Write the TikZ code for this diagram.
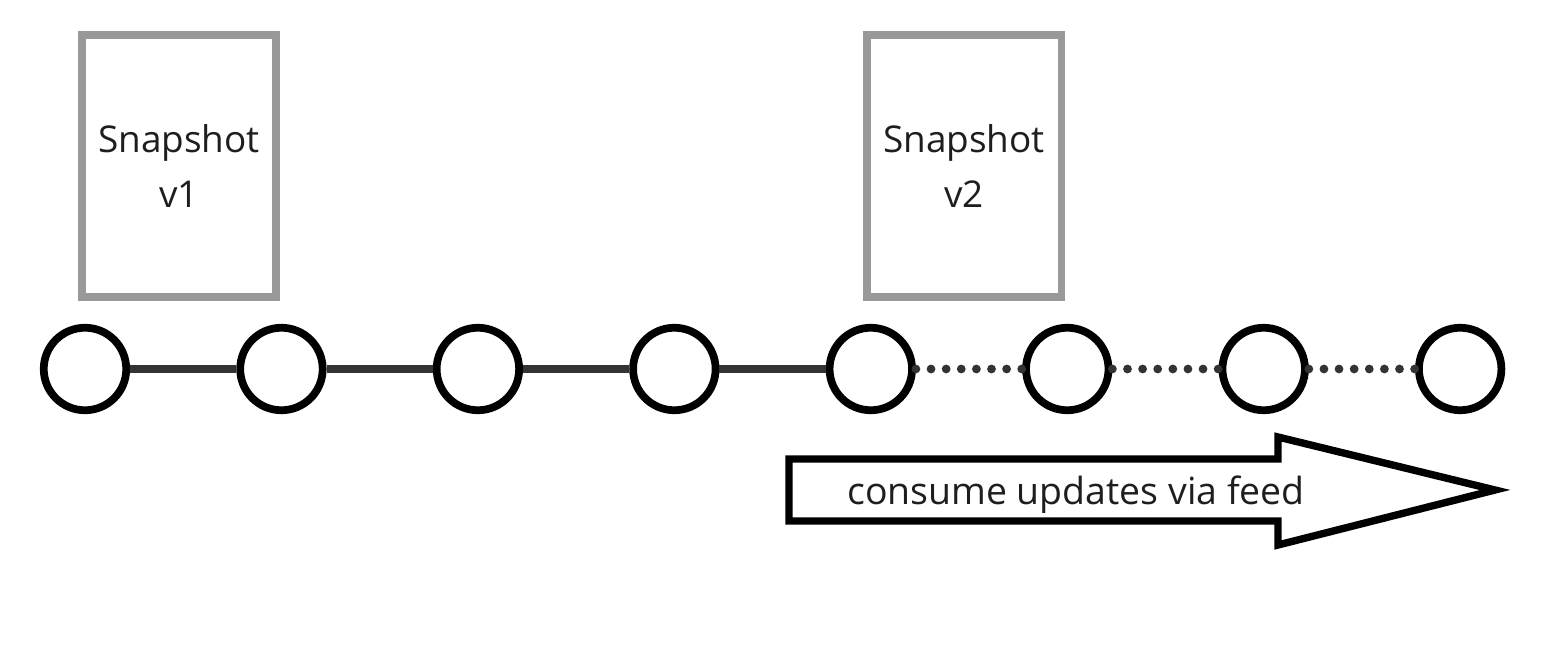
\documentclass[tikz,border=0pt]{standalone}
\usepackage{fontspec}
\setmainfont{Open Sans}
\usetikzlibrary{positioning}
\definecolor{boxgray}{HTML}{999999}
\definecolor{linkgray}{HTML}{333333}
\definecolor{textgray}{HTML}{1E1E1E}

\begin{document}
\begin{tikzpicture}[
        eventnode/.style={circle, draw=black, line width=4.4pt, fill=white, minimum size=16.5mm, inner sep=0pt},
        snapnode/.style={rectangle, draw=boxgray, line width=4pt, minimum width=38.8mm, minimum height=52.4mm, align=center, text=textgray, font=\fontsize{21}{31}\selectfont},
        link/.style={draw=linkgray, line width=4.2pt},
        pending/.style={draw=linkgray, line width=5pt, line cap=round, dash pattern=on 0pt off 8.6pt},
        node distance=39.29mm, on grid,
    ]
    \useasboundingbox (0,0) rectangle (30.98,12.90);

    \node[eventnode] (e1) at (1.70,5.52) {};
    \node[eventnode] (e2) [right=of e1] {};
    \node[eventnode] (e3) [right=of e2] {};
    \node[eventnode] (e4) [right=of e3] {};
    \node[eventnode] (e5) [right=of e4] {};
    \node[eventnode] (e6) [right=of e5] {};
    \node[eventnode] (e7) [right=of e6] {};
    \node[eventnode] (e8) [right=of e7] {};

    \node[snapnode] (snap1) at (3.58,9.58) {Snapshot\\v1};
    \node[snapnode] (snap2) [right=15.7cm of snap1] {Snapshot\\v2};

    \path (e1) edge[link] (e2);
    \path (e2) edge[link] (e3);
    \path (e3) edge[link] (e4);
    \path (e4) edge[link] (e5);
    \path (e5) edge[pending] (e6);
    \path (e6) edge[pending] (e7);
    \path (e7) edge[pending] (e8);

    % feed arrow
    \draw[line width=4.2pt, fill=white, line join=miter]
        (15.78,3.72) -- (25.56,3.72) -- (25.56,4.16) -- (29.90,3.10)
        -- (25.56,2.00) -- (25.56,2.48) -- (15.78,2.48) -- cycle;
    \node[anchor=base, text=textgray, font=\fontsize{21.3}{26}\selectfont] (feed) at (21.52,2.82) {consume updates via feed};
\end{tikzpicture}
\end{document}
